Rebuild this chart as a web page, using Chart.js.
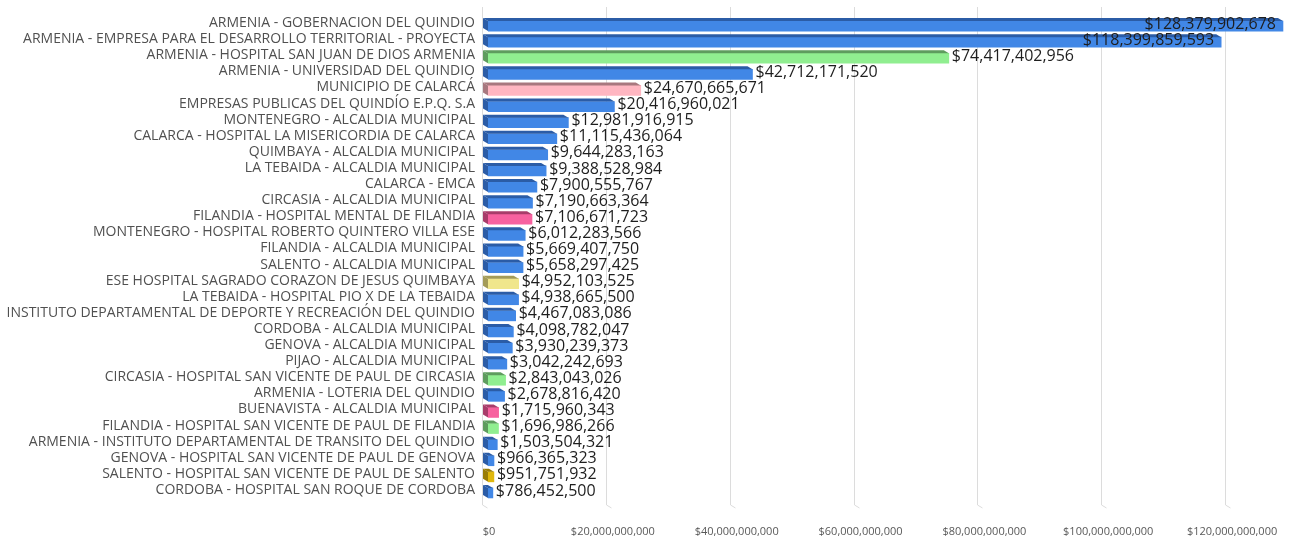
<!DOCTYPE html>
<html>
<head>
<meta charset="utf-8">
<script src="https://cdn.jsdelivr.net/npm/chart.js@4.4.0/dist/chart.umd.min.js"></script>
<style>
  html, body { margin: 0; padding: 0; background: #fff; }
  #wrap { width: 1293px; height: 538px; position: relative; }
</style>
</head>
<body>
<div id="wrap"><canvas id="barChart"></canvas></div>
<script>
// entidades
let entidades = [
    'ARMENIA - GOBERNACION DEL QUINDIO',
    'ARMENIA - EMPRESA PARA EL DESARROLLO TERRITORIAL - PROYECTA',
    'ARMENIA - HOSPITAL SAN JUAN DE DIOS ARMENIA',
    'ARMENIA - UNIVERSIDAD DEL QUINDIO',
    'MUNICIPIO DE CALARCÁ',
    'EMPRESAS PUBLICAS DEL QUINDÍO E.P.Q. S.A',
    'MONTENEGRO - ALCALDIA MUNICIPAL',
    'CALARCA - HOSPITAL LA MISERICORDIA DE CALARCA',
    'QUIMBAYA - ALCALDIA MUNICIPAL',
    'LA TEBAIDA - ALCALDIA MUNICIPAL',
    'CALARCA - EMCA',
    'CIRCASIA - ALCALDIA MUNICIPAL',
    'FILANDIA - HOSPITAL MENTAL DE FILANDIA',
    'MONTENEGRO - HOSPITAL ROBERTO QUINTERO VILLA ESE',
    'FILANDIA - ALCALDIA MUNICIPAL',
    'SALENTO - ALCALDIA MUNICIPAL',
    'ESE HOSPITAL SAGRADO CORAZON DE JESUS QUIMBAYA',
    'LA TEBAIDA - HOSPITAL PIO X DE LA TEBAIDA',
    'INSTITUTO DEPARTAMENTAL DE DEPORTE Y RECREACIÓN DEL QUINDIO',
    'CORDOBA - ALCALDIA MUNICIPAL',
    'GENOVA - ALCALDIA MUNICIPAL',
    'PIJAO - ALCALDIA MUNICIPAL',
    'CIRCASIA - HOSPITAL SAN VICENTE DE PAUL DE CIRCASIA',
    'ARMENIA - LOTERIA DEL QUINDIO',
    'BUENAVISTA - ALCALDIA MUNICIPAL',
    'FILANDIA - HOSPITAL SAN VICENTE DE PAUL DE FILANDIA',
    'ARMENIA - INSTITUTO DEPARTAMENTAL DE TRANSITO DEL QUINDIO',
    'GENOVA - HOSPITAL SAN VICENTE DE PAUL DE GENOVA',
    'SALENTO - HOSPITAL SAN VICENTE DE PAUL DE SALENTO',
    'CORDOBA - HOSPITAL SAN ROQUE DE CORDOBA'
];

// valor contratado
let valores = [
    128379902678, 118399859593, 74417402956, 42712171520, 24670665671,
    20416960021, 12981916915, 11115436064, 9644283163, 9388528984,
    7900555767, 7190663364, 7106671723, 6012283566, 5669407750,
    5658297425, 4952103525, 4938665500, 4467083086, 4098782047,
    3930239373, 3042242693, 2843043026, 2678816420, 1715960343,
    1696986266, 1503504321, 966365323, 951751932, 786452500
];

// eje x
let ejeMax = 130000000000;
let ejePaso = 20000000000;

// colores (cara frontal, cara oscura)
let azul = ['#4187e6', '#2b5ca6'];
let verde = ['#90ee90', '#5e9c5e'];
let rosa = ['#ffb6c1', '#a8787f'];
let fucsia = ['#f7619f', '#a83c6a'];
let caqui = ['#f0e68c', '#a39b57'];
let oro = ['#e0b80c', '#9a7d05'];

let coloresBarra = [
    azul, azul, verde, azul, rosa, azul, azul, azul, azul, azul,
    azul, azul, fucsia, azul, azul, azul, caqui, azul, azul, azul,
    azul, azul, verde, azul, fucsia, verde, azul, azul, oro, azul
];

let formatoPesos = function (v) {
    return '$' + Math.round(Number(v)).toLocaleString('en-US');
};

// rejilla en el plano de fondo
let rejilla3d = {
    id: 'rejilla3d',
    beforeDatasetsDraw: function (chart) {
        let ctx = chart.ctx;
        let area = chart.chartArea;
        let x = chart.scales.x;
        ctx.save();
        ctx.strokeStyle = '#dcdcdc';
        ctx.lineWidth = 1;
        for (let v = 0; v <= ejeMax; v += ejePaso) {
            let px = Math.round(x.getPixelForValue(v) - 6) + 0.5;
            ctx.beginPath();
            ctx.moveTo(px, area.top - 11);
            ctx.lineTo(px, area.bottom + 4);
            ctx.lineTo(px + 5, area.bottom + 7);
            ctx.stroke();
        }
        ctx.restore();
    }
};

// caras superior e izquierda + etiquetas
let barras3d = {
    id: 'barras3d',
    afterDatasetsDraw: function (chart) {
        let ctx = chart.ctx;
        let meta = chart.getDatasetMeta(0);
        let dx = 5, dy = 3;
        ctx.save();
        meta.data.forEach(function (bar, i) {
            let p = bar.getProps(['x', 'y', 'base', 'height'], true);
            let x0 = p.base, x1 = p.x;
            let top = p.y - p.height / 2, bot = p.y + p.height / 2;
            ctx.fillStyle = coloresBarra[i][1];
            ctx.beginPath();
            ctx.moveTo(x0, top);
            ctx.lineTo(x1, top);
            ctx.lineTo(x1 - dx, top - dy);
            ctx.lineTo(x0 - dx, top - dy);
            ctx.closePath();
            ctx.fill();
            ctx.beginPath();
            ctx.moveTo(x0, top);
            ctx.lineTo(x0, bot);
            ctx.lineTo(x0 - dx, bot - dy);
            ctx.lineTo(x0 - dx, top - dy);
            ctx.closePath();
            ctx.fill();
        });

        ctx.font = '16px "Open Sans"';
        ctx.fillStyle = '#1e1e1e';
        ctx.textBaseline = 'middle';
        meta.data.forEach(function (bar, i) {
            let p = bar.getProps(['x', 'y'], true);
            let txt = formatoPesos(valores[i]);
            let w = ctx.measureText(txt).width;
            if (p.x + 4 + w > chart.chartArea.right) {
                ctx.textAlign = 'right';
                ctx.fillText(txt, p.x - 7, p.y - 2);
            } else {
                ctx.textAlign = 'left';
                ctx.fillText(txt, p.x + 3, p.y - 2);
            }
        });
        ctx.restore();
    }
};

let barChartDraw = function () {
    let ctx = document.getElementById('barChart').getContext('2d');

    window.barChart = new Chart(ctx, {
        type: 'bar',
        data: {
            labels: entidades,
            datasets: [{
                data: valores,
                backgroundColor: coloresBarra.map(function (c) { return c[0]; }),
                borderWidth: 0,
                barThickness: 10
            }]
        },
        options: {
            indexAxis: 'y',
            responsive: true,
            maintainAspectRatio: false,
            animation: false,
            layout: {
                padding: { top: 18, right: 0, bottom: 0, left: 0 }
            },
            plugins: {
                legend: { display: false },
                tooltip: { enabled: false }
            },
            scales: {
                x: {
                    min: 0,
                    max: ejeMax,
                    afterFit: function (scale) { scale.height = 37; },
                    afterBuildTicks: function (scale) {
                        let t = [];
                        for (let v = 0; v <= ejeMax; v += ejePaso) t.push({ value: v });
                        scale.ticks = t;
                    },
                    grid: { display: false },
                    border: { display: false },
                    ticks: {
                        padding: 16,
                        labelOffset: 1,
                        maxRotation: 0,
                        minRotation: 0,
                        autoSkip: false,
                        color: '#595959',
                        font: { family: 'Open Sans', size: 11 },
                        callback: function (v) { return formatoPesos(v); }
                    }
                },
                y: {
                    afterFit: function (scale) { scale.width = 488; },
                    grid: { display: false },
                    border: { display: false },
                    ticks: {
                        padding: 5,
                        labelOffset: -3,
                        autoSkip: false,
                        color: '#505050',
                        font: { family: 'Open Sans', size: 14 }
                    }
                }
            }
        },
        plugins: [rejilla3d, barras3d]
    });
};

window.onload = function () {
    barChartDraw();
};
</script>
</body>
</html>
